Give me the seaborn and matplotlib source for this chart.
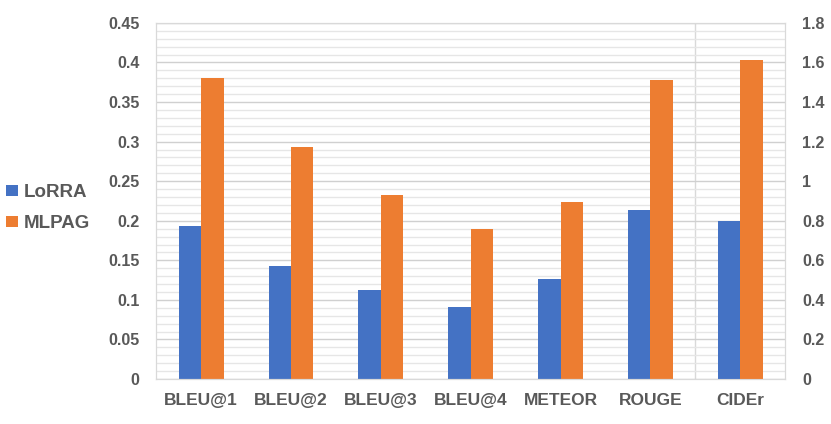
import seaborn as sns
import matplotlib.pyplot as plt
import pandas as pd
from matplotlib.ticker import MultipleLocator, FuncFormatter

categories = ["BLEU@1", "BLEU@2", "BLEU@3", "BLEU@4", "METEOR", "ROUGE", "CIDEr"]
models = ["LoRRA", "MLPAG"]
# left axis metrics
lorra_left = [0.193, 0.143, 0.112, 0.091, 0.127, 0.214]
mlpag_left = [0.381, 0.293, 0.233, 0.189, 0.224, 0.378]
# right axis metric (CIDEr)
lorra_cider = [0.80]
mlpag_cider = [1.614]
colors = ["#4472C4", "#ED7D31"]

df_left = pd.DataFrame({
    "metric": categories[:6] * 2,
    "model": ["LoRRA"] * 6 + ["MLPAG"] * 6,
    "score": lorra_left + mlpag_left,
})
df_right = pd.DataFrame({
    "metric": ["CIDEr", "CIDEr"],
    "model": models,
    "score": lorra_cider + mlpag_cider,
})

sns.set_style("white")
plt.rcParams["font.family"] = ["Liberation Sans", "DejaVu Sans"]

fig = plt.figure(figsize=(8.31, 4.24), dpi=100)
ax = fig.add_axes([0.188, 0.106, 0.757, 0.840])
ax2 = ax.twinx()

sns.barplot(data=df_left, x="metric", y="score", hue="model", order=categories,
            hue_order=models, palette=colors, width=0.5, saturation=1,
            linewidth=0, ax=ax, legend=True)
sns.barplot(data=df_right, x="metric", y="score", hue="model", order=categories,
            hue_order=models, palette=colors, width=0.5, saturation=1,
            linewidth=0, ax=ax2, legend=False)

ax.set_ylim(0, 0.45)
ax2.set_ylim(0, 1.8)
ax.set_xlim(-0.5, 6.5)
ax.yaxis.set_major_locator(MultipleLocator(0.05))
ax.yaxis.set_minor_locator(MultipleLocator(0.01))
ax2.yaxis.set_major_locator(MultipleLocator(0.2))
fmt = FuncFormatter(lambda v, p: f"{round(v, 2):g}")
ax.yaxis.set_major_formatter(fmt)
ax2.yaxis.set_major_formatter(fmt)

ax.grid(axis="y", which="major", color="#D0D0D0", linewidth=1.0)
ax.grid(axis="y", which="minor", color="#E6E6E6", linewidth=1.0)
ax.set_axisbelow(True)
ax.axvline(5.5, color="#D9D9D9", linewidth=1.0, zorder=0.5)

for a in (ax, ax2):
    a.set_xlabel("")
    a.set_ylabel("")
    for s in a.spines.values():
        s.set_color("#D9D9D9")
    a.tick_params(which="both", length=0, colors="#595959")

ax.tick_params(axis="x", labelsize=12.5, pad=10)
ax.tick_params(axis="y", labelsize=11.5, pad=12)
ax2.tick_params(axis="y", labelsize=11.5, pad=12)
for lbl in ax.get_xticklabels() + ax.get_yticklabels() + ax2.get_yticklabels():
    lbl.set_fontweight("bold")

handles, labels = ax.get_legend_handles_labels()
ax.legend(handles, labels, loc="center left", bbox_to_anchor=(-0.265, 0.48),
          frameon=False, handlelength=0.6, handleheight=0.6, handletextpad=0.3,
          labelspacing=0.75, prop={"size": 13.5, "weight": "bold"}, labelcolor="#595959")

fig.savefig("out.png", dpi=100)
